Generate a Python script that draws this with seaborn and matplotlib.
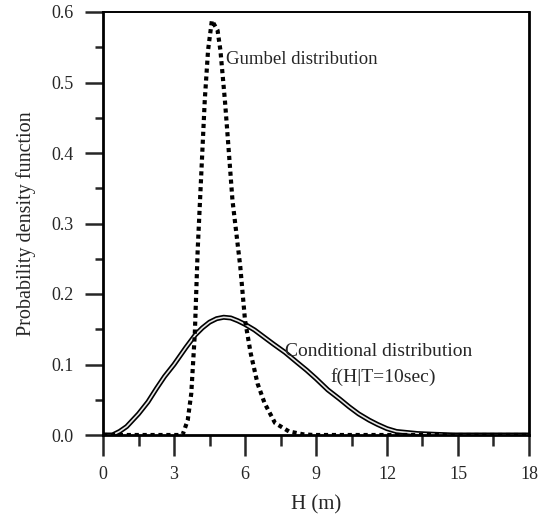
import matplotlib
matplotlib.use("Agg")
import matplotlib.pyplot as plt
import seaborn as sns
from matplotlib.ticker import MultipleLocator

# Data
cond_h = [0.0, 0.4, 0.7, 1.0, 1.5, 1.9, 2.26, 2.6, 3.0, 3.5, 3.9, 4.2, 4.5, 4.8, 5.1, 5.4, 5.7, 6.0, 6.4, 6.8, 7.2, 7.7, 8.2, 8.6, 9.0, 9.5, 10.0, 10.4, 10.8, 11.25, 11.6, 12.0, 12.4, 12.7, 13.3, 14.0, 14.8, 18.0]
cond_p = [0.0, 0.0, 0.005, 0.012, 0.030, 0.047, 0.066, 0.083, 0.100, 0.124, 0.142, 0.152, 0.160, 0.165, 0.167, 0.166, 0.162, 0.157, 0.149, 0.139, 0.129, 0.117, 0.103, 0.092, 0.080, 0.064, 0.051, 0.040, 0.030, 0.021, 0.015, 0.009, 0.005, 0.004, 0.002, 0.001, 0.0, 0.0]

gum_h = [0.0, 3.36, 3.58, 3.73, 3.88, 4.0, 4.1, 4.3, 4.44, 4.6, 4.84, 4.96, 5.15, 5.26, 5.47, 5.8, 6.0, 6.24, 6.53, 6.83, 7.27, 7.86, 8.45, 8.9, 18.0]
gum_p = [0.0, 0.0, 0.021, 0.059, 0.144, 0.262, 0.333, 0.475, 0.546, 0.588, 0.574, 0.546, 0.475, 0.427, 0.333, 0.239, 0.163, 0.116, 0.073, 0.045, 0.017, 0.005, 0.001, 0.0, 0.0]

x_ticks = [0, 3, 6, 9, 12, 15, 18]
y_ticks = [0.0, 0.1, 0.2, 0.3, 0.4, 0.5, 0.6]

sns.set_style("white")
plt.rcParams['font.family'] = ['Liberation Serif', 'DejaVu Serif']

fig = plt.figure(figsize=(5.47, 5.14), dpi=100)
ax = fig.add_axes([103 / 547, 1 - 435 / 514, (529 - 103) / 547, (435 - 12) / 514])

# Conditional distribution: double line (black outline, light core)
sns.lineplot(x=cond_h, y=cond_p, ax=ax, color="black", linewidth=3.6, sort=False, estimator=None)
sns.lineplot(x=cond_h, y=cond_p, ax=ax, color="#e6e6e6", linewidth=1.2, sort=False, estimator=None)
# Gumbel distribution: heavy dotted line
sns.lineplot(x=gum_h, y=gum_p, ax=ax, color="black", linewidth=3.0, sort=False, estimator=None,
             linestyle=(0, (1, 0.9)))

ax.set_xlim(0, 18)
ax.set_ylim(0, 0.6)
ax.set_xticks(x_ticks)
ax.set_xticklabels([str(t) for t in x_ticks])
ax.set_yticks(y_ticks)
ax.set_yticklabels([f"{t:.1f}" for t in y_ticks])
ax.xaxis.set_minor_locator(MultipleLocator(1.5))
ax.yaxis.set_minor_locator(MultipleLocator(0.05))

ax.tick_params(axis="x", which="major", direction="out", length=15, width=1.8, labelsize=13, pad=7, bottom=True)
ax.tick_params(axis="x", which="minor", direction="out", length=8, width=1.8, bottom=True)
ax.tick_params(axis="y", which="major", direction="out", length=13, width=1.8, labelsize=13, pad=8, left=True)
ax.tick_params(axis="y", which="minor", direction="out", length=6, width=1.8, left=True)

for side in ["left", "bottom", "right"]:
    ax.spines[side].set_linewidth(2.0)
    ax.spines[side].set_color("black")
ax.spines["top"].set_linewidth(1.4)
ax.spines["top"].set_color("black")

ax.set_xlabel("H (m)", fontsize=15, labelpad=9)
ax.set_ylabel("Probability density function", fontsize=14.5, labelpad=11)

ax.text(5.2, 0.532, "Gumbel distribution", fontsize=13.5, ha="left", va="center")
ax.text(7.7, 0.118, "Conditional distribution", fontsize=14, ha="left", va="center")
ax.text(9.6, 0.082, "f(H|T=10sec)", fontsize=14, ha="left", va="center")

fig.savefig("out.png", dpi=100)
